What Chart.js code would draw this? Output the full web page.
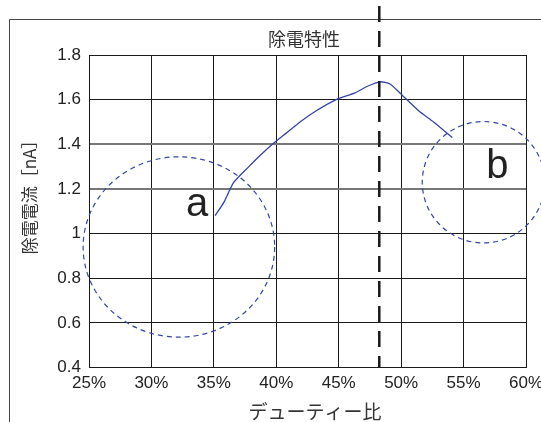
<!DOCTYPE html>
<html>
<head>
<meta charset="utf-8">
<script src="https://cdn.jsdelivr.net/npm/chart.js@4/dist/chart.umd.min.js"></script>
<style>
  body { margin: 0; background: #fff; }
  canvas { display: block; }
</style>
</head>
<body>
<canvas id="chart" width="541" height="422"></canvas>
<script>
// measured curve: duty ratio [%] vs discharge current [nA]
const dutyPct = [35.1, 35.8, 36.6, 37.8, 38.7, 39.9, 40.8, 41.9, 43.2, 44.8, 46.3, 47.3, 48.3, 49.1, 49.9, 51.4, 52.6, 54.1];
const currentNA = [1.08, 1.14, 1.23, 1.30, 1.35, 1.41, 1.45, 1.50, 1.55, 1.60, 1.63, 1.66, 1.68, 1.67, 1.63, 1.55, 1.50, 1.43];

const xTicks = [25, 30, 35, 40, 45, 50, 55, 60];
const yTicks = [0.4, 0.6, 0.8, 1.0, 1.2, 1.4, 1.6, 1.8];
const yTickLabels = ['0.4', '0.6', '0.8', '1', '1.2', '1.4', '1.6', '1.8'];

// dashed marker at the peak duty ratio
const markerDuty = 48.25;

// dashed circles a / b (data units)
const circleNames = ['a', 'b'];
const circleCx = [32.2, 56.6];
const circleCy = [0.94, 1.23];
const circleRx = [7.67, 4.91];
const circleRy = [0.404, 0.272];
const circleLabelX = [33.65, 57.7];
const circleLabelY = [1.13, 1.30];

const chartTitle = '除電特性';
const xTitle = 'デューティー比';
const yTitle = '除電電流［nA］';

const blue = '#3545a5';
const cjkFont = '"Noto Sans CJK JP", "Noto Sans", sans-serif';
const numFont = '"Liberation Sans", Arial, sans-serif';

const overlay = {
    id: 'overlay',
    beforeDraw(chart) {
        const ctx = chart.ctx;
        ctx.save();
        ctx.strokeStyle = '#444';
        ctx.lineWidth = 1;
        ctx.beginPath();
        ctx.moveTo(9.5, 422);
        ctx.lineTo(9.5, 19.5);
        ctx.lineTo(541, 19.5);
        ctx.stroke();
        ctx.restore();
    },
    afterDatasetsDraw(chart) {
        const ctx = chart.ctx;
        const xs = chart.scales.x;
        const ys = chart.scales.y;
        ctx.save();

        // circles
        ctx.strokeStyle = blue;
        ctx.lineWidth = 1.2;
        ctx.setLineDash([5, 4]);
        circleNames.forEach((name, i) => {
            const cx = xs.getPixelForValue(circleCx[i]);
            const cy = ys.getPixelForValue(circleCy[i]);
            const rx = Math.abs(xs.getPixelForValue(circleCx[i] + circleRx[i]) - cx);
            const ry = Math.abs(ys.getPixelForValue(circleCy[i] + circleRy[i]) - cy);
            ctx.beginPath();
            ctx.ellipse(cx, cy, rx, ry, 0, 0, Math.PI * 2);
            ctx.stroke();
        });

        // vertical marker
        const mx = xs.getPixelForValue(markerDuty);
        ctx.strokeStyle = '#1a1a1a';
        ctx.lineWidth = 2.5;
        ctx.setLineDash([16, 9]);
        ctx.beginPath();
        ctx.moveTo(mx, 6);
        ctx.lineTo(mx, chart.chartArea.bottom);
        ctx.stroke();
        ctx.setLineDash([]);

        // circle labels
        ctx.fillStyle = '#222';
        ctx.font = '40px ' + numFont;
        ctx.textAlign = 'center';
        ctx.textBaseline = 'middle';
        circleNames.forEach((name, i) => {
            ctx.fillText(name, xs.getPixelForValue(circleLabelX[i]), ys.getPixelForValue(circleLabelY[i]));
        });

        // titles
        ctx.fillStyle = '#333';
        ctx.font = '18px ' + cjkFont;
        ctx.fillText(chartTitle, 304, 39);
        ctx.font = '19px ' + cjkFont;
        ctx.fillText(xTitle, 315, 412);
        ctx.translate(30, 193);
        ctx.rotate(-Math.PI / 2);
        ctx.font = '17px ' + cjkFont;
        ctx.fillText(yTitle, 0, 0);
        ctx.restore();
    }
};

new Chart(document.getElementById('chart'), {
    type: 'line',
    data: {
        datasets: [{
            data: dutyPct.map((x, i) => ({ x: x, y: currentNA[i] })),
            borderColor: blue,
            borderWidth: 1.3,
            pointRadius: 0,
            tension: 0.2,
            fill: false
        }]
    },
    options: {
        responsive: false,
        animation: false,
        devicePixelRatio: 1,
        layout: { padding: { top: 55, right: 15, left: 0, bottom: 0 } },
        plugins: {
            legend: { display: false },
            tooltip: { enabled: false }
        },
        scales: {
            x: {
                type: 'linear',
                min: 25,
                max: 60,
                afterBuildTicks: scale => { scale.ticks = xTicks.map(v => ({ value: v })); },
                afterFit: scale => {
                    scale.height = 54.5;
                    scale.paddingLeft = 0;
                    scale.paddingRight = 0;
                },
                border: { color: '#1a1a1a', width: 1 },
                grid: { color: '#1a1a1a', lineWidth: 1, drawTicks: false },
                ticks: {
                    padding: 6,
                    color: '#222',
                    font: { family: numFont, size: 17 },
                    maxRotation: 0,
                    callback: v => v + '%'
                }
            },
            y: {
                min: 0.4,
                max: 1.8,
                afterBuildTicks: scale => { scale.ticks = yTicks.map(v => ({ value: v })); },
                afterFit: scale => {
                    scale.width = 89;
                    scale.paddingTop = 0;
                    scale.paddingBottom = 0;
                },
                border: { color: '#1a1a1a', width: 1 },
                grid: {
                    drawTicks: false,
                    color: ctx => (ctx.tick && (ctx.tick.value === 1.2 || ctx.tick.value === 1.4)) ? '#777' : '#1a1a1a',
                    lineWidth: ctx => (ctx.tick && (ctx.tick.value === 1.2 || ctx.tick.value === 1.4)) ? 2 : 1
                },
                ticks: {
                    padding: 8,
                    color: '#222',
                    font: { family: numFont, size: 17 },
                    callback: (v, i) => yTickLabels[i]
                }
            }
        }
    },
    plugins: [overlay]
});
</script>
</body>
</html>
